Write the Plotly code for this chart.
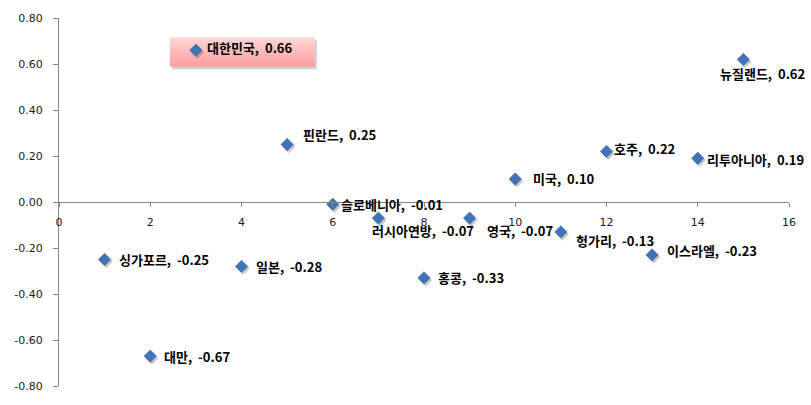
import plotly.graph_objects as go

countries = ["싱가포르", "대만", "대한민국", "일본", "핀란드", "슬로베니아", "러시아연방", "홍콩",
             "영국", "미국", "헝가리", "호주", "이스라엘", "리투아니아", "뉴질랜드"]
x_vals = [1, 2, 3, 4, 5, 6, 7, 8, 9, 10, 11, 12, 13, 14, 15]
y_vals = [-0.25, -0.67, 0.66, -0.28, 0.25, -0.01, -0.07, -0.33, -0.07, 0.10, -0.13, 0.22, -0.23, 0.19, 0.62]
x_ticks = [0, 2, 4, 6, 8, 10, 12, 14, 16]
y_ticks = [-0.8, -0.6, -0.4, -0.2, 0.0, 0.2, 0.4, 0.6, 0.8]
highlight = "대한민국"

# label offsets in pixels (dx to text left edge, dy downward)
default_off = (12, 0)
label_off = {
    "핀란드": (14, -10),
    "슬로베니아": (6, 0),
    "러시아연방": (-8, 12),
    "영국": (15, 12),
    "헝가리": (13, 9),
    "미국": (16, -1),
    "호주": (5, -3),
    "리투아니아": (7, 1),
    "뉴질랜드": (-25, 14),
    "이스라엘": (13, -4),
    "대한민국": (9, -3),
}

BLUE = "#4174B6"
AXIS = "#868686"
LABEL_FONT = dict(family="Noto Sans CJK KR, Malgun Gothic, sans-serif", size=13, color="#000000")

fig = go.Figure()

# marker shadow
fig.add_trace(go.Scatter(
    x=[v + 0.035 for v in x_vals], y=[v - 0.009 for v in y_vals], mode="markers",
    marker=dict(symbol="diamond", size=10, color="rgba(0,0,0,0.22)", line=dict(width=0)),
    hoverinfo="skip", showlegend=False))

fig.add_trace(go.Scatter(
    x=x_vals, y=y_vals, mode="markers",
    marker=dict(symbol="diamond", size=9.5, color=BLUE, line=dict(width=0.6, color="#3A67A3")),
    showlegend=False))

for name, xv, yv in zip(countries, x_vals, y_vals):
    dx, dy = label_off.get(name, default_off)
    fig.add_annotation(
        x=xv, y=yv, xref="x", yref="y",
        text=f"<b>{name},&nbsp; {yv:.2f}</b>", showarrow=False,
        xanchor="left", yanchor="middle", xshift=dx, yshift=-dy,
        font=LABEL_FONT)

# highlight box (gradient simulated with strips) around the highlighted point
hi = countries.index(highlight)
hx, hy = x_vals[hi], y_vals[hi]
bx0, bx1, by0, by1 = -26, 119, -16, 13
# shadow
fig.add_shape(type="rect", xref="x", yref="y", xsizemode="pixel", ysizemode="pixel",
              xanchor=hx, yanchor=hy, x0=bx0 + 2, x1=bx1 + 2, y0=by0 - 3, y1=by1 - 3,
              fillcolor="rgba(0,0,0,0.18)", line=dict(width=0), layer="below")
n = 12
top = (255, 214, 214)
bot = (255, 160, 160)
for i in range(n):
    t = i / (n - 1)
    c = tuple(int(round(top[k] + (bot[k] - top[k]) * t)) for k in range(3))
    ya = by1 - (by1 - by0) * i / n
    yb = by1 - (by1 - by0) * (i + 1) / n
    fig.add_shape(type="rect", xref="x", yref="y", xsizemode="pixel", ysizemode="pixel",
                  xanchor=hx, yanchor=hy, x0=bx0, x1=bx1, y0=yb - 0.5, y1=ya,
                  fillcolor=f"rgb{c}", line=dict(width=0), layer="below")

fig.update_layout(
    width=811, height=405,
    margin=dict(l=59, r=22, t=17, b=16),
    paper_bgcolor="white", plot_bgcolor="white",
    font=dict(family="DejaVu Sans, Verdana, sans-serif", size=11, color="#1a1a1a"),
    xaxis=dict(range=[0, 16], tickvals=x_ticks, ticktext=[str(t) for t in x_ticks],
               showgrid=False, zeroline=False, showline=True, linecolor=AXIS, linewidth=1,
               ticks="outside", ticklen=4, tickcolor=AXIS, anchor="free", position=0.5,
               ticklabelstandoff=6, tickfont=dict(size=11)),
    yaxis=dict(range=[-0.8, 0.8], tickvals=y_ticks, ticktext=[f"{t:.2f}" for t in y_ticks],
               showgrid=False, zeroline=False, showline=True, linecolor=AXIS, linewidth=1,
               ticks="outside", ticklen=5, tickcolor=AXIS, ticklabelstandoff=8,
               tickfont=dict(size=11)),
)

fig.write_html("out.html")
